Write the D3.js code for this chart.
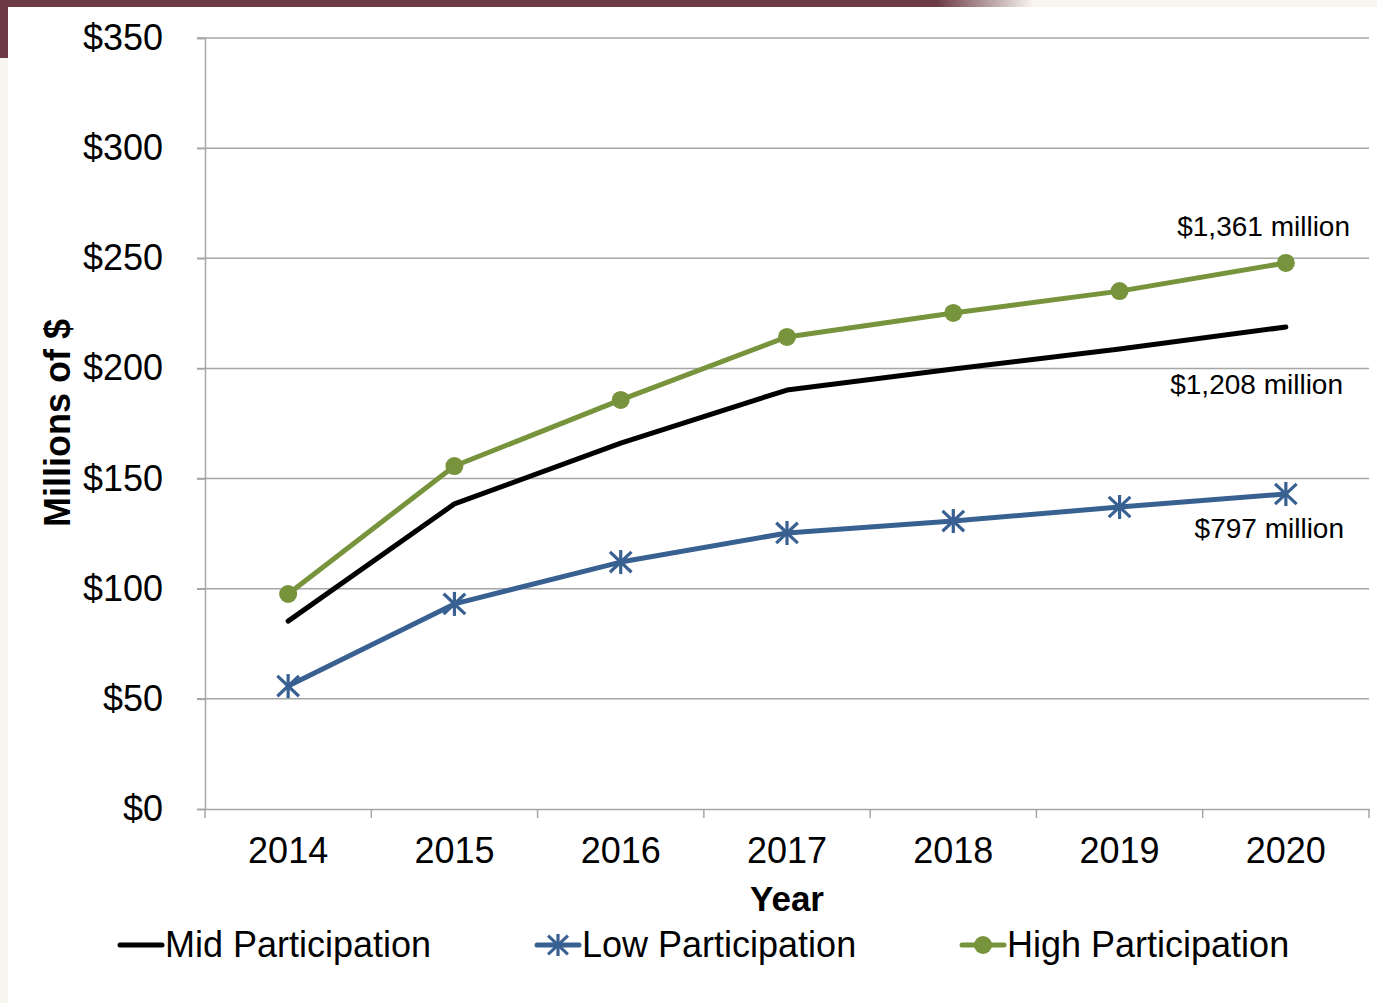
<!DOCTYPE html>
<html>
<head>
<meta charset="utf-8">
<script src="https://cdn.jsdelivr.net/npm/d3@7"></script>
<style>
  body { margin: 0; background: #f8f5ee; }
  svg { display: block; font-family: "Liberation Sans", Arial, sans-serif; }
</style>
</head>
<body>
<svg id="chart" width="1377" height="1003"></svg>
<script>
const years = ["2014", "2015", "2016", "2017", "2018", "2019", "2020"];
const midValues = [85.3, 138.5, 166.1, 190.2, 199.7, 208.8, 218.8];
const lowValues = [55.8, 93.1, 112.1, 125.3, 130.7, 137.1, 143.0];
const highValues = [97.6, 155.7, 185.7, 214.3, 225.2, 235.1, 247.9];
const yTicks = [0, 50, 100, 150, 200, 250, 300, 350];
const totals = { high: "$1,361 million", mid: "$1,208 million", low: "$797 million" };

const svg = d3.select("#chart");
const FONT = "Liberation Sans, Arial, sans-serif";

// slide background pieces
const defs = svg.append("defs");
const grad = defs.append("linearGradient").attr("id", "topfade");
grad.append("stop").attr("offset", "0%").attr("stop-color", "#6b3a42");
grad.append("stop").attr("offset", "68%").attr("stop-color", "#6b3a42");
grad.append("stop").attr("offset", "75%").attr("stop-color", "#f8f5ee");
svg.append("rect").attr("x", 0).attr("y", 0).attr("width", 1377).attr("height", 7).attr("fill", "url(#topfade)");
svg.append("rect").attr("x", 0).attr("y", 0).attr("width", 8).attr("height", 58).attr("fill", "#6b3a42");
svg.append("rect").attr("x", 8).attr("y", 7).attr("width", 1369).attr("height", 996).attr("fill", "#ffffff");

const margin = { left: 205, right: 1369, top: 38, bottom: 809 };

const x = d3.scaleBand().domain(years).range([margin.left, margin.right]);
const y = d3.scaleLinear().domain([0, 350]).range([margin.bottom, margin.top]);
const cx = d => x(d) + x.bandwidth() / 2;

// gridlines
svg.append("g")
  .selectAll("line")
  .data(yTicks.filter(d => d > 0))
  .join("line")
  .attr("x1", margin.left - 8).attr("x2", margin.right)
  .attr("y1", d => y(d)).attr("y2", d => y(d))
  .attr("stroke", "#a6a6a6").attr("stroke-width", 1.5);

// y axis
const yAxis = svg.append("g")
  .attr("transform", `translate(${margin.left},0)`)
  .call(d3.axisLeft(y).tickValues(yTicks).tickSize(8).tickPadding(34).tickFormat(d => "$" + d));
yAxis.select(".domain").attr("stroke", "#a6a6a6").attr("stroke-width", 1.5);
yAxis.selectAll(".tick line").attr("stroke", "#a6a6a6").attr("stroke-width", 1.5);
yAxis.selectAll("text").attr("font-size", 36).attr("fill", "#000").attr("font-family", FONT);

// x axis
const xAxis = svg.append("g")
  .attr("transform", `translate(0,${margin.bottom})`)
  .call(d3.axisBottom(x).tickSize(0).tickPadding(28));
xAxis.select(".domain").attr("stroke", "#a6a6a6").attr("stroke-width", 1.5);
xAxis.selectAll("text").attr("font-size", 36).attr("fill", "#000").attr("font-family", FONT);
svg.append("g")
  .selectAll("line")
  .data(years.concat(["end"]))
  .join("line")
  .attr("x1", (d, i) => margin.left + i * x.bandwidth())
  .attr("x2", (d, i) => margin.left + i * x.bandwidth())
  .attr("y1", margin.bottom).attr("y2", margin.bottom + 9)
  .attr("stroke", "#a6a6a6").attr("stroke-width", 1.5);

// axis titles
svg.append("text")
  .attr("x", cx("2017")).attr("y", 911)
  .attr("text-anchor", "middle").attr("font-size", 35).attr("font-weight", "bold")
  .text("Year");
svg.append("text")
  .attr("transform", "translate(70,423) rotate(-90)")
  .attr("text-anchor", "middle").attr("font-size", 36).attr("font-weight", "bold")
  .text("Millions of $");

const line = d3.line().x((d, i) => cx(years[i])).y(d => y(d));

const greenC = "#77933c";
const blueC = "#386192";

function star(g, px, py, r, color) {
  [[0, -r, 0, r], [-r * 0.9, -r * 0.85, r * 0.9, r * 0.85], [-r * 0.9, r * 0.85, r * 0.9, -r * 0.85]]
    .forEach(s => {
      g.append("line")
        .attr("x1", px + s[0]).attr("y1", py + s[1])
        .attr("x2", px + s[2]).attr("y2", py + s[3])
        .attr("stroke", color).attr("stroke-width", 3.2);
    });
}

// series lines
svg.append("path").datum(highValues).attr("d", line)
  .attr("fill", "none").attr("stroke", greenC).attr("stroke-width", 5).attr("stroke-linecap", "round").attr("stroke-linejoin", "round");
svg.append("path").datum(midValues).attr("d", line)
  .attr("fill", "none").attr("stroke", "#000").attr("stroke-width", 5).attr("stroke-linecap", "round").attr("stroke-linejoin", "round");
svg.append("path").datum(lowValues).attr("d", line)
  .attr("fill", "none").attr("stroke", blueC).attr("stroke-width", 5).attr("stroke-linecap", "round").attr("stroke-linejoin", "round");

// markers
svg.append("g").selectAll("circle")
  .data(highValues)
  .join("circle")
  .attr("cx", (d, i) => cx(years[i])).attr("cy", d => y(d))
  .attr("r", 9).attr("fill", greenC);
const stars = svg.append("g");
lowValues.forEach((d, i) => star(stars, cx(years[i]), y(d), 12, blueC));

// total labels
svg.append("text").attr("x", 1350).attr("y", 236).attr("text-anchor", "end").attr("font-size", 28).text(totals.high);
svg.append("text").attr("x", 1343).attr("y", 394).attr("text-anchor", "end").attr("font-size", 28).text(totals.mid);
svg.append("text").attr("x", 1344).attr("y", 538).attr("text-anchor", "end").attr("font-size", 28).text(totals.low);

// legend
const legend = [
  { name: "Mid Participation", color: "#000", marker: "none", x: 120 },
  { name: "Low Participation", color: blueC, marker: "star", x: 537 },
  { name: "High Participation", color: greenC, marker: "circle", x: 962 }
];
const ly = 945;
legend.forEach(l => {
  const g = svg.append("g");
  g.append("line").attr("x1", l.x).attr("x2", l.x + 42).attr("y1", ly).attr("y2", ly)
    .attr("stroke", l.color).attr("stroke-width", 5).attr("stroke-linecap", "round");
  if (l.marker === "circle") g.append("circle").attr("cx", l.x + 21).attr("cy", ly).attr("r", 9).attr("fill", l.color);
  if (l.marker === "star") star(g, l.x + 21, ly, 11, l.color);
  g.append("text").attr("x", l.x + 45).attr("y", ly + 12).attr("font-size", 36).text(l.name);
});
</script>
</body>
</html>
